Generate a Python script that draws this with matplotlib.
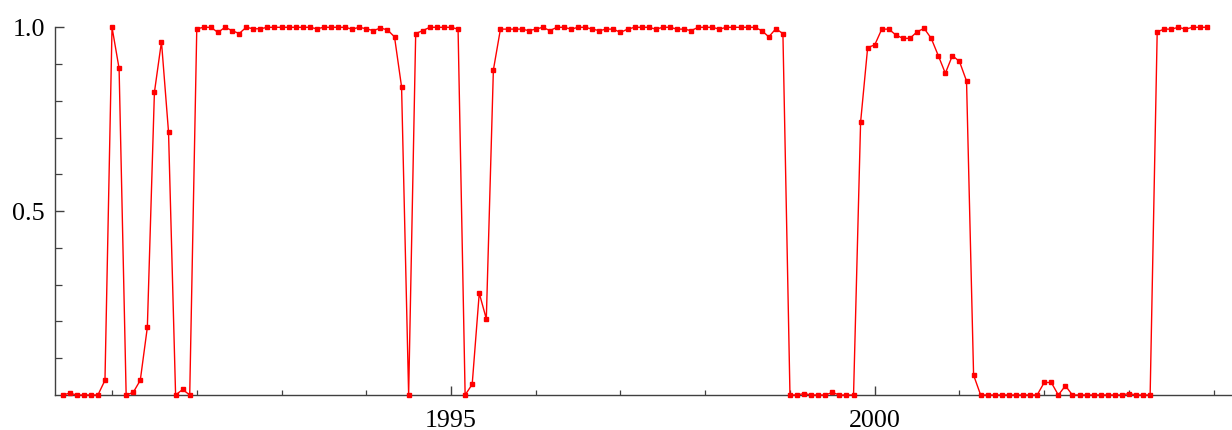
import matplotlib
matplotlib.use("Agg")
import matplotlib.pyplot as plt
from matplotlib.ticker import FixedLocator

# Monthly series, first observation June 1990, last December 2003
start_year = 1990
start_month = 6
values = [
    0.0, 0.005, 0.0, 0.0, 0.0, 0.0, 0.04, 1.0, 0.888, 0.0,          # 0-9
    0.007, 0.04, 0.184, 0.823, 0.961, 0.715, 0.0, 0.015, 0.0, 0.996, # 10-19
    1.0, 1.0, 0.986, 1.0, 0.991, 0.983, 1.0, 0.996, 0.996, 1.0,       # 20-29
    1.0, 1.0, 1.0, 1.0, 1.0, 1.0, 0.996, 1.0, 1.0, 1.0,               # 30-39
    1.0, 0.995, 1.0, 0.996, 0.991, 0.998, 0.993, 0.974, 0.838, 0.0,   # 40-49
    0.983, 0.991, 1.0, 1.0, 1.0, 1.0, 0.995, 0.0, 0.029, 0.277,       # 50-59
    0.207, 0.884, 0.995, 0.995, 0.995, 0.995, 0.991, 0.995, 1.0, 0.991, # 60-69
    1.0, 1.0, 0.995, 1.0, 1.0, 0.995, 0.991, 0.995, 0.995, 0.986,     # 70-79
    0.995, 1.0, 1.0, 1.0, 0.995, 1.0, 1.0, 0.995, 0.995, 0.991,       # 80-89
    1.0, 1.0, 1.0, 0.995, 1.0, 1.0, 1.0, 1.0, 1.0, 0.991,             # 90-99
    0.974, 0.996, 0.983, 0.0, 0.0, 0.004, 0.0, 0.0, 0.0, 0.007,       # 100-109
    0.0, 0.0, 0.0, 0.742, 0.945, 0.952, 0.995, 0.995, 0.979, 0.970,   # 110-119
    0.970, 0.988, 0.997, 0.970, 0.923, 0.875, 0.923, 0.907, 0.854, 0.054, # 120-129
    0.0, 0.0, 0.0, 0.0, 0.0, 0.0, 0.0, 0.0, 0.0, 0.034,               # 130-139
    0.034, 0.0, 0.025, 0.0, 0.0, 0.0, 0.0, 0.0, 0.0, 0.0,             # 140-149
    0.0, 0.004, 0.0, 0.0, 0.0, 0.988, 0.995, 0.995, 1.0, 0.995,       # 150-159
    1.0, 1.0, 1.0,                                                    # 160-162
]
dates = [start_year + (start_month - 1 + i) / 12.0 for i in range(len(values))]

major_years = [1995, 2000]
minor_years = [1991, 1992, 1993, 1994, 1996, 1997, 1998, 1999, 2001, 2002, 2003, 2004]
y_major = [0.5, 1.0]
y_minor = [0.1, 0.2, 0.3, 0.4, 0.6, 0.7, 0.8, 0.9]

W, H = 1232, 430
fig = plt.figure(figsize=(W / 100, H / 100), dpi=100)
ax = fig.add_axes([55 / W, 35 / H, (W - 55) / W, (395 - 27.3) / H])

ax.plot(dates, values, color="#ff0000", lw=1.0, marker="s", ms=3.4,
        mec="#ff0000", mfc="#ff0000", clip_on=False, zorder=3)

ax.set_xlim(1990.327, 2004.216)
ax.set_ylim(0, 1.0)

for s in ["top", "right"]:
    ax.spines[s].set_visible(False)
for s in ["left", "bottom"]:
    ax.spines[s].set_color("#404040")
    ax.spines[s].set_linewidth(1.0)

ax.xaxis.set_major_locator(FixedLocator(major_years))
ax.xaxis.set_minor_locator(FixedLocator(minor_years))
ax.set_xticklabels([str(y) for y in major_years])
ax.yaxis.set_major_locator(FixedLocator(y_major))
ax.yaxis.set_minor_locator(FixedLocator(y_minor))
ax.set_yticklabels(["0.5", "1.0"])

for lbl in ax.get_xticklabels() + ax.get_yticklabels():
    lbl.set_fontfamily("Liberation Serif")
    lbl.set_fontsize(18.7)
    lbl.set_color("black")

ax.tick_params(axis="both", which="major", direction="in", length=6.8, width=1.0,
               color="#404040")
ax.tick_params(axis="both", which="minor", direction="in", length=3.6, width=0.9,
               color="#404040")
ax.tick_params(axis="y", which="minor", length=4.8)
ax.tick_params(axis="x", which="major", pad=10.5)
ax.tick_params(axis="y", which="major", pad=7.2)

fig.savefig("out.png", dpi=100)
